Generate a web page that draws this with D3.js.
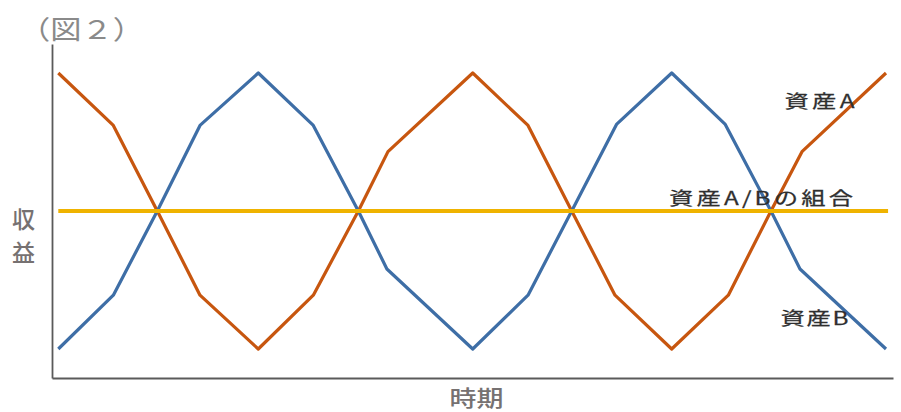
<!DOCTYPE html>
<html><head><meta charset="utf-8">
<script src="https://cdn.jsdelivr.net/npm/d3@7"></script>
<style>
html,body{margin:0;padding:0;background:#fff;}
svg{display:block;font-family:"Noto Sans CJK JP","Noto Sans",sans-serif;}
</style></head>
<body>
<svg id="chart" width="901" height="412"></svg>
<script>
// Time (period index, 0-100) and return values
const timeA  = [0, 6.65, 11.96, 17.12, 24.16, 30.81, 36.25, 39.83, 50.07, 56.75, 62.03, 67.26, 74.11, 80.95, 86.1, 89.85, 100];
const valueA = [10, 6.2, 0, -6.1, -10, -6.1, 0, 4.3, 10, 6.2, 0, -6.1, -10, -6.1, 0, 4.3, 10];
const timeB  = [0, 6.65, 11.96, 17.12, 24.16, 30.81, 36.25, 39.7, 50.07, 56.75, 62.03, 67.47, 74.11, 80.55, 86.1, 89.61, 100];
const valueB = [-10, -6.1, 0, 6.2, 10, 6.2, 0, -4.2, -10, -6.1, 0, 6.3, 10, 6.3, 0, -4.2, -10];
const timeAB  = [0, 100.25];
const valueAB = [0, 0];

const seriesNames = ["資産A", "資産B", "資産A/Bの組合"];
const titleText = "（図２）";
const yLabelChars = ["収", "益"];
const xLabelText = "時期";

const svg = d3.select("#chart");

const x = d3.scaleLinear().domain([0, 100]).range([58.3, 886]);
const y = d3.scaleLinear().domain([-12.1, 12.1]).range([378, 44]);
const xFrame = d3.scaleLinear().domain([x.invert(52), x.invert(893)]).range([52, 893]);

// axes (frame lines only)
const axisColor = "#5a5a5a";
svg.append("g").attr("transform", "translate(52,0)")
  .call(d3.axisLeft(y).ticks(0).tickSize(0).tickSizeOuter(0));
svg.append("g").attr("transform", "translate(0,378)")
  .call(d3.axisBottom(xFrame).ticks(0).tickSize(0).tickSizeOuter(0));
svg.selectAll(".domain").attr("stroke", axisColor).attr("stroke-width", 1.8);

const line = d3.line().x(d => x(d[0])).y(d => y(d[1])).curve(d3.curveLinear);
const zip = (t, v) => t.map((d, i) => [d, v[i]]);

const series = [
  {data: zip(timeA, valueA), color: "#C7560F", w: 3.2},
  {data: zip(timeB, valueB), color: "#3E6EA6", w: 3.2},
  {data: zip(timeAB, valueAB), color: "#EFB300", w: 4}
];

svg.append("g").selectAll("path").data(series).join("path")
  .attr("d", d => line(d.data))
  .attr("fill", "none")
  .attr("stroke", d => d.color)
  .attr("stroke-width", d => d.w)
  .attr("stroke-linejoin", "round")
  .attr("stroke-linecap", "butt");

// series labels (horizontally stretched, slightly letter-spaced like the reference)
const sx = 1.35;
const labelPos = [
  {text: seriesNames[0], x: 784.5, y: 100, len: 70},
  {text: seriesNames[1], x: 780.5, y: 317, len: 68},
  {text: seriesNames[2], x: 669, y: 197, len: 184}
];
const lg = svg.append("g").selectAll("g").data(labelPos).join("g")
  .attr("transform", d => `translate(${d.x},${d.y}) scale(${sx},1)`);
lg.append("text")
  .attr("x", 0).attr("y", 0)
  .attr("dominant-baseline", "central")
  .attr("font-size", 18)
  .attr("fill", "#2f2f2f")
  .attr("stroke", "#2f2f2f")
  .attr("stroke-width", 0.25)
  .attr("textLength", d => d.len / sx)
  .attr("lengthAdjust", "spacing")
  .text(d => d.text);

// title
svg.append("text")
  .attr("x", 19).attr("y", 27)
  .attr("dominant-baseline", "central")
  .attr("font-size", 26)
  .attr("fill", "#8a8a8a")
  .attr("textLength", 125)
  .attr("lengthAdjust", "spacingAndGlyphs")
  .text(titleText);

// y label (vertical, stacked)
svg.append("g").selectAll("text").data(yLabelChars).join("text")
  .attr("x", 23.5)
  .attr("y", (d, i) => 217.5 + i * 33)
  .attr("text-anchor", "middle")
  .attr("dominant-baseline", "central")
  .attr("font-size", 23)
  .attr("font-weight", 500)
  .attr("fill", "#767171")
  .text(d => d);

// x label
svg.append("text")
  .attr("x", 476.5).attr("y", 406)
  .attr("text-anchor", "middle")
  .attr("font-size", 22)
  .attr("font-weight", 500)
  .attr("fill", "#767171")
  .attr("textLength", 54)
  .attr("lengthAdjust", "spacingAndGlyphs")
  .text(xLabelText);
</script>
</body></html>
